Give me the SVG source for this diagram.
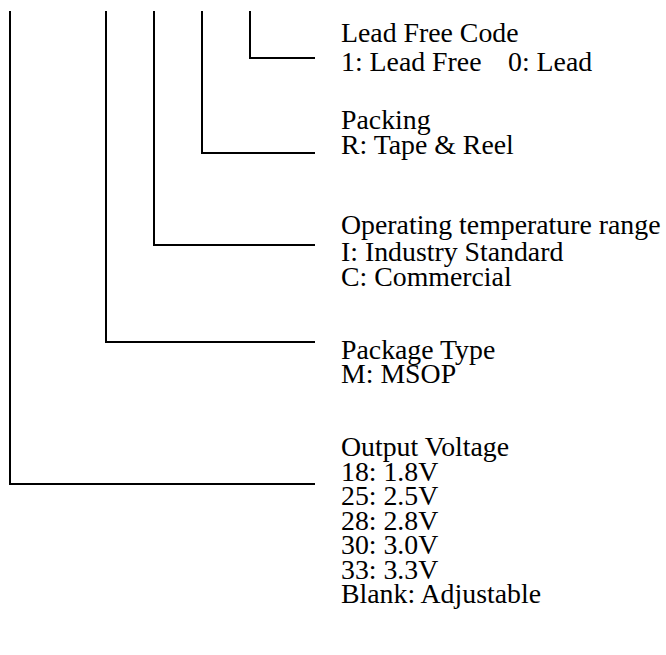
<svg xmlns="http://www.w3.org/2000/svg" width="666" height="655" viewBox="0 0 666 655">
<style>
.c{fill:none;stroke:#000;stroke-width:2}
text{font-family:"Liberation Serif","Times New Roman",serif;font-size:27.8px;fill:#000}
</style>
<rect width="666" height="655" fill="#fff"/>
<g id="connectors">
<polyline class="c" points="250,11 250,58 315,58"/>
<polyline class="c" points="202,11 202,153 315,153"/>
<polyline class="c" points="154,11 154,245 315,245"/>
<polyline class="c" points="106,11 106,342 315,342"/>
<polyline class="c" points="10,11 10,484 315,484"/>
</g>
<g id="lead-free">
<text x="341" y="42">Lead Free Code</text>
<text x="341" y="71">1: Lead Free</text>
<text x="508" y="71">0: Lead</text>
</g>
<g id="packing">
<text x="341" y="129">Packing</text>
<text x="341" y="154">R: Tape &amp; Reel</text>
</g>
<g id="temperature">
<text x="341" y="234">Operating temperature range</text>
<text x="341" y="261">I: Industry Standard</text>
<text x="341" y="286">C: Commercial</text>
</g>
<g id="package">
<text x="341" y="359">Package Type</text>
<text x="341" y="383">M: MSOP</text>
</g>
<g id="voltage">
<text x="341" y="456">Output Voltage</text>
<text x="341" y="481">18: 1.8V</text>
<text x="341" y="505">25: 2.5V</text>
<text x="341" y="530">28: 2.8V</text>
<text x="341" y="554">30: 3.0V</text>
<text x="341" y="579">33: 3.3V</text>
<text x="341" y="603">Blank: Adjustable</text>
</g>
</svg>
